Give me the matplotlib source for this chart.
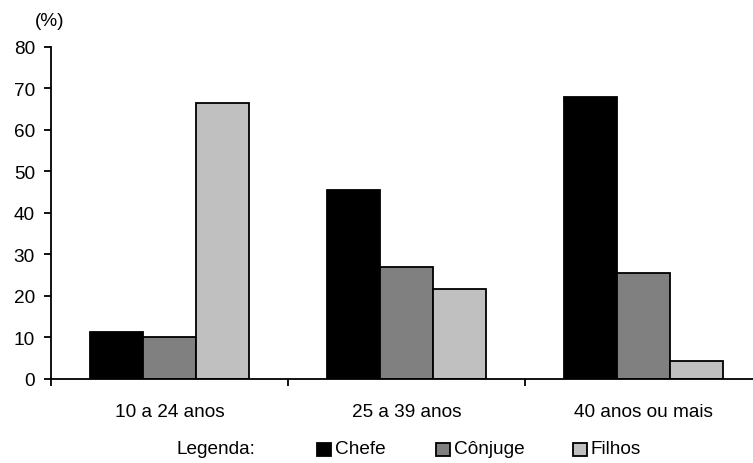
import matplotlib.pyplot as plt
from matplotlib.patches import Rectangle
import numpy as np

plt.rcParams['font.family'] = ['Liberation Sans', 'DejaVu Sans']

categorias = ['10 a 24 anos', '25 a 39 anos', '40 anos ou mais']
series = ['Chefe', 'Cônjuge', 'Filhos']
chefe = [11.2, 45.6, 67.8]
conjuge = [10.2, 26.9, 25.6]
filhos = [66.5, 21.7, 4.3]
cores = ['#000000', '#808080', '#c0c0c0']

W, H = 753, 464
fig = plt.figure(figsize=(W / 100, H / 100), dpi=100)
ax = fig.add_axes([51 / W, (H - 380) / H, (762 - 51) / W, (380 - 47.7) / H])

x = np.arange(len(categorias))
largura = 0.224
for i, (vals, cor) in enumerate(zip([chefe, conjuge, filhos], cores)):
    ax.bar(x + (i - 1) * largura, vals, largura, color=cor, edgecolor='black', linewidth=1.3)

ax.set_xlim(-0.5, 2.5)
ax.set_ylim(0, 80)
ax.set_yticks(range(0, 81, 10))
ax.set_xticks(x)
ax.set_xticklabels(categorias)
ax.set_xticks([-0.5, 0.5, 1.5, 2.5], minor=True)
ax.tick_params(axis='x', which='major', length=0, pad=17, labelsize=13.7)
ax.tick_params(axis='x', which='minor', length=5, width=1.3, direction='out')
ax.tick_params(axis='y', length=5, width=1.3, pad=6.5, labelsize=13.7)
for s in ['top', 'right']:
    ax.spines[s].set_visible(False)
for s in ['left', 'bottom']:
    ax.spines[s].set_linewidth(1.3)

fig.text(50 / W, 1 - 21 / H, '(%)', ha='center', va='center', fontsize=13.7)

# legenda
ly = 1 - 450 / H
fig.text(177 / W, ly, 'Legenda:', ha='left', va='center', fontsize=13.7)
posicoes = [317, 436, 573]
for px, nome, cor in zip(posicoes, series, cores):
    fig.patches.append(Rectangle((px / W, (H - 456.5) / H), 14 / W, 13 / H,
                                 facecolor=cor, edgecolor='black', linewidth=1.3,
                                 transform=fig.transFigure, figure=fig))
    fig.text((px + 18) / W, ly, nome, ha='left', va='center', fontsize=13.7)

fig.savefig('out.png', dpi=100)
